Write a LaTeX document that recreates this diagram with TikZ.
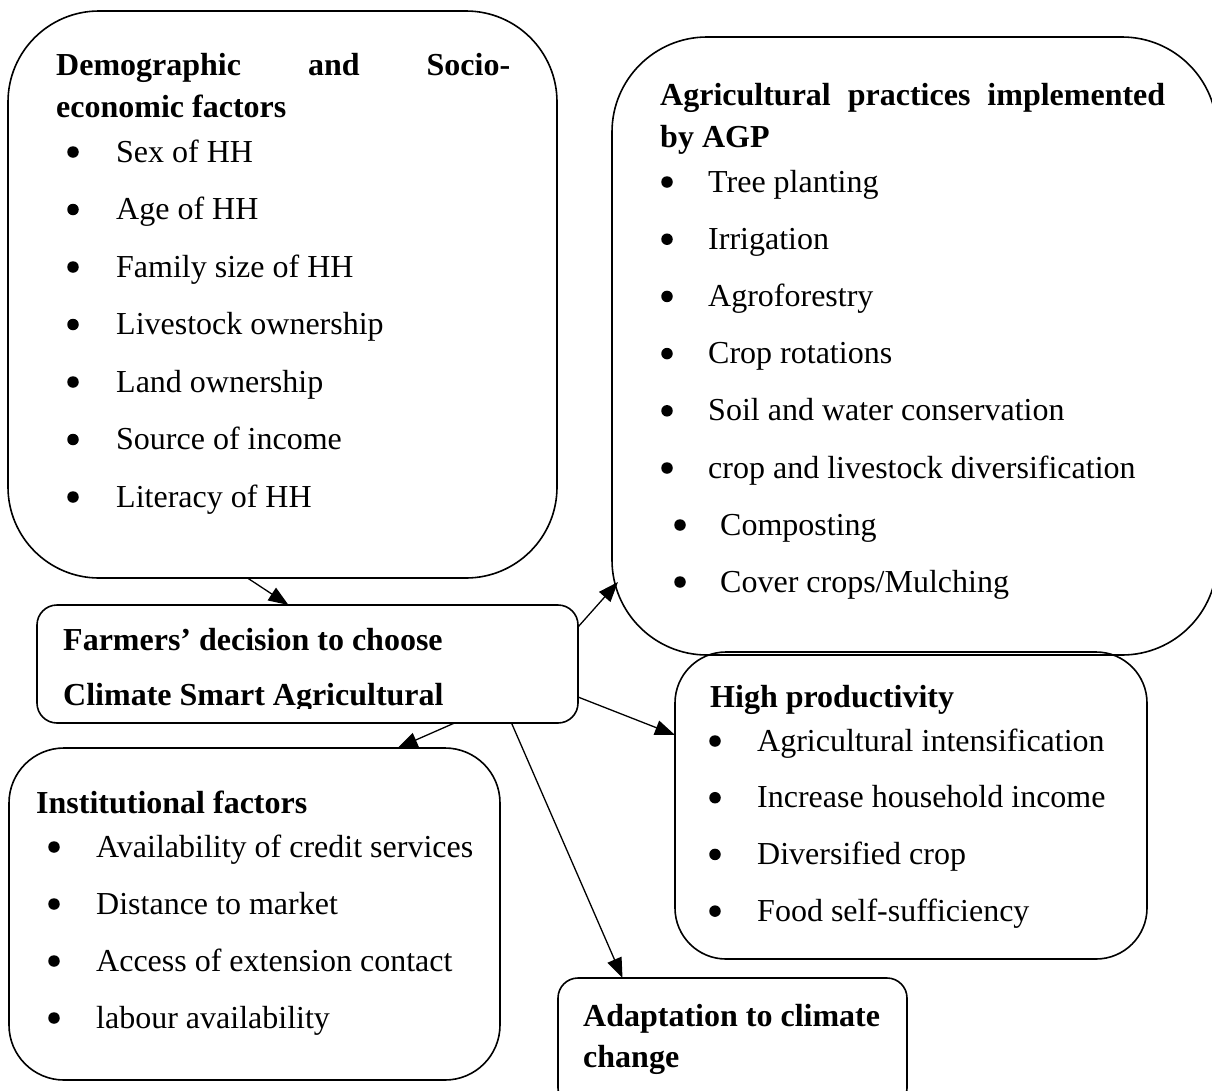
\documentclass[tikz,border=0pt]{standalone}
\usepackage{fontspec}
\setmainfont{Liberation Serif}
\usetikzlibrary{arrows.meta}
\tikzset{
  panel/.style={draw, line width=1.6pt, inner sep=0pt, outer sep=0pt, anchor=north west},
  head/.style={font=\bfseries, anchor=base west, inner sep=0pt},
  item/.style={anchor=base west, inner sep=0pt},
  dot/.style={circle, fill, inner sep=0pt, minimum size=11.5pt, yshift=10pt},
  link/.style={line width=1.3pt, -{Triangle[length=20pt,width=15pt]}}
}
\begin{document}
\begin{tikzpicture}[x=1pt, y=-1pt]
\fontsize{32}{38}\selectfont
\clip (0,0) rectangle (1212,1090);
\fill[white] (0,0) rectangle (1212,1090);

% boxes
\node[panel, rounded corners=91pt, minimum width=549pt, minimum height=567pt] (demo) at (8,11) {};
\node[panel, rounded corners=95pt, minimum width=605pt, minimum height=618pt] (prac) at (612,37) {};
\node[panel, rounded corners=20pt, minimum width=541pt, minimum height=118pt] (dec) at (37,605) {};
\node[panel, rounded corners=51pt, minimum width=472pt, minimum height=307pt] (prod) at (675,652) {};
\node[panel, rounded corners=55pt, minimum width=491pt, minimum height=332pt] (inst) at (9,748) {};
\node[panel, rounded corners=20pt, minimum width=349pt, minimum height=130pt] (adapt) at (558,978) {};

% demographic and socio-economic factors
\node[head] (dh1) at (56,75) {\hbox to 454pt{Demographic\hfill and\hfill Socio-}};
\node[head] (dh2) at (56,117) {economic factors};
\foreach \t [count=\i from 0] in {Sex of HH, Age of HH, Family size of HH, Livestock ownership, Land ownership, Source of income, Literacy of HH}{
  \node[dot] (db\i) at (73,162+57.5*\i) {};
  \node[item] (dt\i) at (116,162+57.5*\i) {\t};
}

% agricultural practices
\node[head] (ph1) at (660,105) {\hbox to 505pt{Agricultural\hfill practices\hfill implemented}};
\node[head] (ph2) at (660,147) {by AGP};
\foreach \t [count=\i from 0] in {Tree planting, Irrigation, Agroforestry, Crop rotations, Soil and water conservation, crop and livestock diversification}{
  \node[dot] (pb\i) at (667,192+57.2*\i) {};
  \node[item] (pt\i) at (708,192+57.2*\i) {\t};
}
\node[dot] (pb6) at (680,535) {};
\node[item] (pt6) at (720,535) {Composting};
\node[dot] (pb7) at (680,592) {};
\node[item] (pt7) at (720,592) {Cover crops/Mulching};

% farmers' decision
\begin{scope}
\clip (37,605) rectangle (578,708);
\node[head] (fh1) at (63,650) {Farmers’ decision to choose};
\node[head] (fh2) at (63,705) {Climate Smart Agricultural};
\end{scope}

% high productivity
\node[head] (hh) at (710,707) {High productivity};
\foreach \t [count=\i from 0] in {Agricultural intensification, Increase household income, Diversified crop, Food self-sufficiency}{
  \node[dot] (hb\i) at (715,751+56.7*\i) {};
  \node[item] (ht\i) at (757,751+56.7*\i) {\t};
}

% institutional factors
\node[head] (ih) at (36,813) {Institutional factors};
\foreach \t [count=\i from 0] in {Availability of credit services, Distance to market, Access of extension contact, labour availability}{
  \node[dot] (ib\i) at (54,857+57*\i) {};
  \node[item] (it\i) at (96,857+57*\i) {\t};
}

% adaptation
\node[head] (ah1) at (583,1026) {Adaptation to climate};
\node[head] (ah2) at (583,1067) {change};

% connectors
\coordinate (pracIn) at (618,582);
\draw[link] ([xshift=-35pt]demo.south) -- ([xshift=-19pt]dec.north);
\draw[link] ([yshift=-22pt]dec.north east) -- (pracIn);
\draw[link] ([yshift=26pt]dec.south east) -- ([yshift=-83pt]prod.north west);
\draw[link] ([xshift=147pt]dec.south) -- ([xshift=143pt]inst.north);
\draw[link] ([xshift=204pt]dec.south) -- ([xshift=-110pt]adapt.north);
\end{tikzpicture}
\end{document}
